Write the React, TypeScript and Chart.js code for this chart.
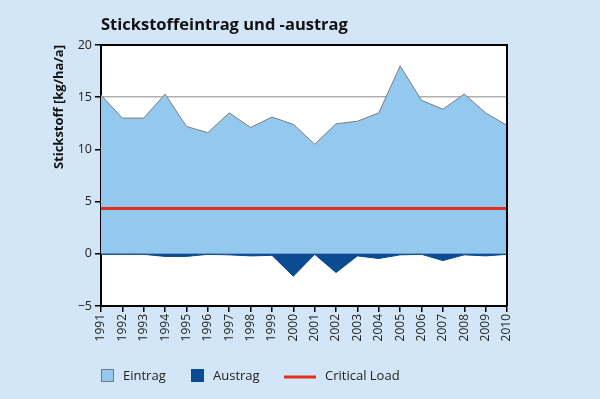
import React, { useEffect, useRef } from "react";
import { Chart, registerables } from "chart.js";

Chart.register(...registerables);

const years = ["1991","1992","1993","1994","1995","1996","1997","1998","1999","2000","2001","2002","2003","2004","2005","2006","2007","2008","2009","2010"];
const eintrag = [15.2, 13.0, 13.0, 15.3, 12.2, 11.6, 13.5, 12.1, 13.1, 12.4, 10.5, 12.45, 12.7, 13.5, 18.0, 14.7, 13.85, 15.3, 13.5, 12.3];
const austrag = [-0.05, -0.05, -0.05, -0.25, -0.25, -0.05, -0.1, -0.2, -0.15, -2.15, -0.05, -1.8, -0.2, -0.45, -0.1, -0.05, -0.65, -0.1, -0.2, -0.05];
const criticalLoad = years.map(() => 4.35);
const yTicks = [-5, 0, 5, 10, 15, 20];

const title = "Stickstoffeintrag und -austrag";
const yTitle = "Stickstoff [kg/ha/a]";
const legendLabels = ["Eintrag", "Austrag", "Critical Load"];

const BG = "#d3e6f7";
const LIGHT = "#94c9ef";
const DARK = "#0b4b91";
const RED = "#e2301f";
const FONT = "'Open Sans', 'Noto Sans', sans-serif";

const decorPlugin = {
  id: "decor",
  beforeDraw(chart: any) {
    const { ctx, chartArea: a } = chart;
    ctx.save();
    ctx.fillStyle = BG;
    ctx.fillRect(0, 0, chart.width, chart.height);
    ctx.fillStyle = "#ffffff";
    ctx.fillRect(a.left, a.top, a.right - a.left, a.bottom - a.top);
    ctx.restore();
  },
  afterDraw(chart: any) {
    const { ctx, chartArea: a } = chart;
    ctx.save();
    ctx.strokeStyle = "#000";
    ctx.lineWidth = 2;
    ctx.beginPath();
    ctx.moveTo(a.left, a.top);
    ctx.lineTo(a.right, a.top);
    ctx.lineTo(a.right, a.bottom);
    ctx.stroke();
    ctx.fillStyle = "#111";
    ctx.font = `bold 16.5px ${FONT}`;
    ctx.textBaseline = "alphabetic";
    ctx.textAlign = "left";
    ctx.fillText(title, a.left, 29.5);
    const cy = 376;
    const x0 = a.left;
    ctx.font = `13px ${FONT}`;
    ctx.textBaseline = "middle";
    ctx.fillStyle = LIGHT;
    ctx.fillRect(x0, cy - 7, 13, 13);
    ctx.strokeStyle = "#777";
    ctx.lineWidth = 1;
    ctx.strokeRect(x0 + 0.5, cy - 6.5, 12, 12);
    ctx.fillStyle = "#222";
    ctx.fillText(legendLabels[0], x0 + 22, cy);
    ctx.fillStyle = DARK;
    ctx.fillRect(x0 + 90, cy - 7, 13, 13);
    ctx.fillStyle = "#222";
    ctx.fillText(legendLabels[1], x0 + 112, cy);
    ctx.strokeStyle = RED;
    ctx.lineWidth = 3;
    ctx.beginPath();
    ctx.moveTo(x0 + 183, cy + 1);
    ctx.lineTo(x0 + 215, cy + 1);
    ctx.stroke();
    ctx.fillStyle = "#222";
    ctx.fillText(legendLabels[2], x0 + 224, cy);
    ctx.restore();
  },
};

export default function App() {
  const ref = useRef<HTMLCanvasElement>(null);
  useEffect(() => {
    document.body.style.margin = "0";
    const chart = new Chart(ref.current as HTMLCanvasElement, {
      type: "line",
      data: {
        labels: years,
        datasets: [
          { label: legendLabels[2], data: criticalLoad, borderColor: RED, borderWidth: 3, pointRadius: 0, fill: false, order: 0 },
          { label: legendLabels[0], data: eintrag, borderColor: "#7d7d7d", borderWidth: 1, backgroundColor: LIGHT, pointRadius: 0, fill: "origin", tension: 0, order: 2 },
          { label: legendLabels[1], data: austrag, borderColor: DARK, borderWidth: 1, backgroundColor: DARK, pointRadius: 0, fill: "origin", tension: 0, order: 1 },
        ],
      },
      options: {
        animation: false,
        responsive: false,
        maintainAspectRatio: false,
        layout: { padding: { left: 51, right: 93, top: 45, bottom: 32 } },
        plugins: { legend: { display: false }, tooltip: { enabled: false }, title: { display: false } },
        scales: {
          x: {
            offset: false,
            afterFit: (s: any) => { s.height = 61; },
            grid: { color: "transparent", tickColor: "#000", tickLength: 6, drawOnChartArea: false, lineWidth: 1.5 },
            border: { color: "#000", width: 2 },
            ticks: { minRotation: 90, maxRotation: 90, autoSkip: false, color: "#222", font: { family: FONT, size: 12 }, padding: 2 },
          },
          y: {
            min: -5,
            max: 20,
            afterFit: (s: any) => { s.width = 50; },
            afterBuildTicks: (s: any) => { s.ticks = yTicks.map((v) => ({ value: v })); },
            grid: {
              color: (c: any) => (c.tick && c.tick.value === 15 ? "#b0b0b0" : c.tick && c.tick.value === 0 ? "#8a8a8a" : "transparent"),
              tickColor: "#000",
              tickLength: 6,
              lineWidth: 1.5,
            },
            border: { color: "#000", width: 2 },
            ticks: { color: "#222", font: { family: FONT, size: 12.5 }, padding: 3, callback: (v: any) => (v < 0 ? "\u2212" + Math.abs(v) : String(v)) },
            title: { display: true, text: yTitle, align: "end", color: "#111", font: { family: FONT, size: 13, weight: "bold" }, padding: { top: 0, bottom: 2 } },
          },
        },
      },
      plugins: [decorPlugin],
    } as any);
    return () => chart.destroy();
  }, []);
  return (
    <div style={{ width: 600, height: 399, background: BG }}>
      <canvas ref={ref} width={600} height={399} style={{ display: "block" }} />
    </div>
  );
}
